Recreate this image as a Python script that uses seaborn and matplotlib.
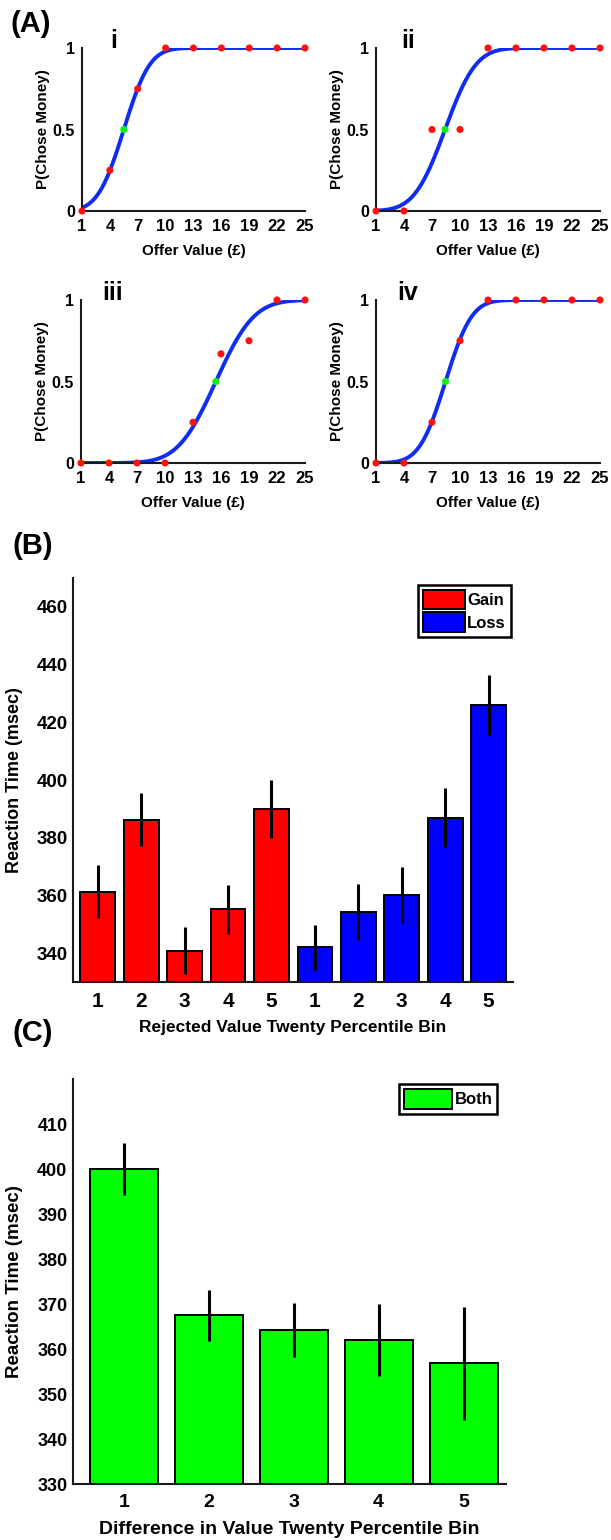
import math
import numpy as np
import pandas as pd
import seaborn as sns
import matplotlib.pyplot as plt

# ---- panel A: choice curves for four example subjects
offer_values = [1, 4, 7, 10, 13, 16, 19, 22, 25]
p_choice_i = [0, 0.25, 0.75, 1, 1, 1, 1, 1, 1]
p_choice_ii = [0, 0, 0.5, 0.5, 1, 1, 1, 1, 1]
p_choice_iii = [0, 0, 0, 0, 0.25, 0.67, 0.75, 1, 1]
p_choice_iv = [0, 0, 0.25, 0.75, 1, 1, 1, 1, 1]
subject_names = ['i', 'ii', 'iii', 'iv']
# fitted cumulative normal: indifference point and spread
fit_mid = [5.5, 8.4, 15.45, 8.45]
fit_sd = [2.2, 2.6, 3.2, 2.2]

# ---- panel B: RT by rejected value bin
bin_labels = ['1', '2', '3', '4', '5']
rt_gain = [361.3, 386.3, 340.8, 355.2, 390.0]
rt_gain_err = [9.2, 9.3, 8.2, 8.4, 10.0]
rt_loss = [342.1, 354.3, 360.1, 387.0, 425.9]
rt_loss_err = [7.8, 9.7, 9.6, 10.2, 10.4]

# ---- panel C: RT by difference in value bin
rt_both = [400.0, 367.5, 364.3, 362.1, 356.8]
rt_both_err = [5.8, 5.7, 6.0, 8.0, 12.6]

sns.set_style('white')
plt.rcParams['font.family'] = ['Liberation Sans', 'DejaVu Sans']
plt.rcParams['font.weight'] = 'bold'
plt.rcParams['axes.labelweight'] = 'bold'
plt.rcParams['text.color'] = 'black'
plt.rcParams['axes.labelcolor'] = 'black'
plt.rcParams['xtick.color'] = 'black'
plt.rcParams['ytick.color'] = 'black'

W, H = 611, 1540
fig = plt.figure(figsize=(W / 100, H / 100), dpi=100)


def px_axes(l, t, r, b):
    return fig.add_axes([l / W, 1 - b / H, (r - l) / W, (b - t) / H])


def norm_cdf(x, mid, sd):
    return np.array([0.5 * (1 + math.erf((v - mid) / (sd * math.sqrt(2)))) for v in x])


def style_spines(ax, lw=1.5):
    for side in ['top', 'right']:
        ax.spines[side].set_visible(False)
    for side in ['left', 'bottom']:
        ax.spines[side].set_color('#1a1a1a')
        ax.spines[side].set_linewidth(lw)


# panel A
boxes = [(82, 48, 305, 211), (376, 48, 600, 211), (81, 300, 305, 463), (376, 300, 600, 463)]
choices = [p_choice_i, p_choice_ii, p_choice_iii, p_choice_iv]
xs = np.linspace(1, 25, 400)
for k, box in enumerate(boxes):
    ax = px_axes(*box)
    curve = norm_cdf(xs, fit_mid[k], fit_sd[k])
    sns.lineplot(x=xs, y=curve, color='#0f2df0', lw=2.8, ax=ax, zorder=2)
    sns.scatterplot(x=offer_values, y=choices[k], color='#ff1010', s=26, edgecolor='none',
                    ax=ax, clip_on=False, zorder=3)
    ax.scatter([fit_mid[k]], [0.5], color='#10f010', s=26, edgecolor='none', zorder=4)
    ax.set_xlim(1, 25)
    ax.set_ylim(0, 1)
    ax.set_xticks(offer_values)
    ax.set_yticks([0, 0.5, 1])
    ax.set_yticklabels(['0', '0.5', '1'])
    ax.tick_params(direction='in', length=3, width=1, labelsize=12, pad=6)
    ax.tick_params(axis='y', pad=5, labelsize=11.5)
    style_spines(ax)
    ax.set_xlabel('Offer Value (£)', fontsize=11)
    ax.set_ylabel('P(Chose Money)', fontsize=11)
    ax.xaxis.set_label_coords(0.5, -0.2)
    ax.yaxis.set_label_coords(-0.145, 0.5)
    ax.text(4.4, 1.0, subject_names[k], fontsize=18, fontweight='bold', ha='center', va='baseline')

# panel B
df_b = pd.DataFrame({
    'pos': list(range(10)),
    'rt': rt_gain + rt_loss,
    'err': rt_gain_err + rt_loss_err,
    'cond': ['Gain'] * 5 + ['Loss'] * 5,
})
ax = px_axes(73, 578, 513, 982)
sns.barplot(data=df_b, x='pos', y='rt', hue='cond', palette={'Gain': '#ff0000', 'Loss': '#0000ff'},
            dodge=False, width=0.8, saturation=1, edgecolor='black', linewidth=1.4, errorbar=None, ax=ax)
ax.errorbar(df_b['pos'], df_b['rt'], yerr=df_b['err'], fmt='none', ecolor='black',
            elinewidth=2.2, capsize=0, zorder=5)
ax.set_xlim(-0.57, 9.56)
ax.set_ylim(330, 470)
ax.set_yticks([340, 360, 380, 400, 420, 440, 460])
ax.set_xticks(range(10))
ax.set_xticklabels(bin_labels + bin_labels)
ax.tick_params(axis='x', length=0, labelsize=15, pad=7)
ax.tick_params(axis='y', direction='in', length=3, labelsize=13.5, pad=4)
style_spines(ax)
ax.set_xlabel('Rejected Value Twenty Percentile Bin', fontsize=12.5)
ax.set_ylabel('Reaction Time (msec)', fontsize=13)
ax.xaxis.set_label_coords(0.5, -0.094)
ax.yaxis.set_label_coords(-0.114, 0.5)
leg = ax.legend(loc='upper right', bbox_to_anchor=(0.995, 0.983), borderaxespad=0, title=None,
                fancybox=False, edgecolor='black', framealpha=1, handlelength=2.5, handleheight=1.4,
                handletextpad=0.15, borderpad=0.3, labelspacing=0.2, prop={'size': 12, 'weight': 'bold'})
leg.get_frame().set_linewidth(1.8)

# panel C
df_c = pd.DataFrame({'pos': list(range(5)), 'rt': rt_both, 'err': rt_both_err, 'cond': ['Both'] * 5})
ax = px_axes(73, 1079, 506, 1484)
sns.barplot(data=df_c, x='pos', y='rt', hue='cond', palette={'Both': '#00ff00'},
            dodge=False, width=0.8, saturation=1, edgecolor='black', linewidth=1.4, errorbar=None, ax=ax)
ax.errorbar(df_c['pos'], df_c['rt'], yerr=df_c['err'], fmt='none', ecolor='black',
            elinewidth=2.2, capsize=0, zorder=5)
ax.set_xlim(-0.6, 4.5)
ax.set_ylim(330, 420)
ax.set_yticks(range(330, 411, 10))
ax.set_xticks(range(5))
ax.set_xticklabels(bin_labels)
ax.tick_params(axis='x', length=0, labelsize=14, pad=7)
ax.tick_params(axis='y', direction='in', length=3, labelsize=13, pad=4)
style_spines(ax)
ax.set_xlabel('Difference in Value Twenty Percentile Bin', fontsize=14)
ax.set_ylabel('Reaction Time (msec)', fontsize=13.5)
ax.xaxis.set_label_coords(0.5, -0.092)
ax.yaxis.set_label_coords(-0.115, 0.5)
leg = ax.legend(loc='upper right', bbox_to_anchor=(0.98, 0.987), borderaxespad=0, title=None,
                fancybox=False, edgecolor='black', framealpha=1, handlelength=2.9, handleheight=1.4,
                handletextpad=0.15, borderpad=0.3, prop={'size': 12, 'weight': 'bold'})
leg.get_frame().set_linewidth(1.8)

# panel letters
fig.text(10 / W, 1 - 10 / H, '(A)', fontsize=21, fontweight='bold', ha='left', va='top')
fig.text(12 / W, 1 - 532 / H, '(B)', fontsize=21, fontweight='bold', ha='left', va='top')
fig.text(12 / W, 1 - 1019 / H, '(C)', fontsize=21, fontweight='bold', ha='left', va='top')

fig.savefig('out.png', dpi=100)
